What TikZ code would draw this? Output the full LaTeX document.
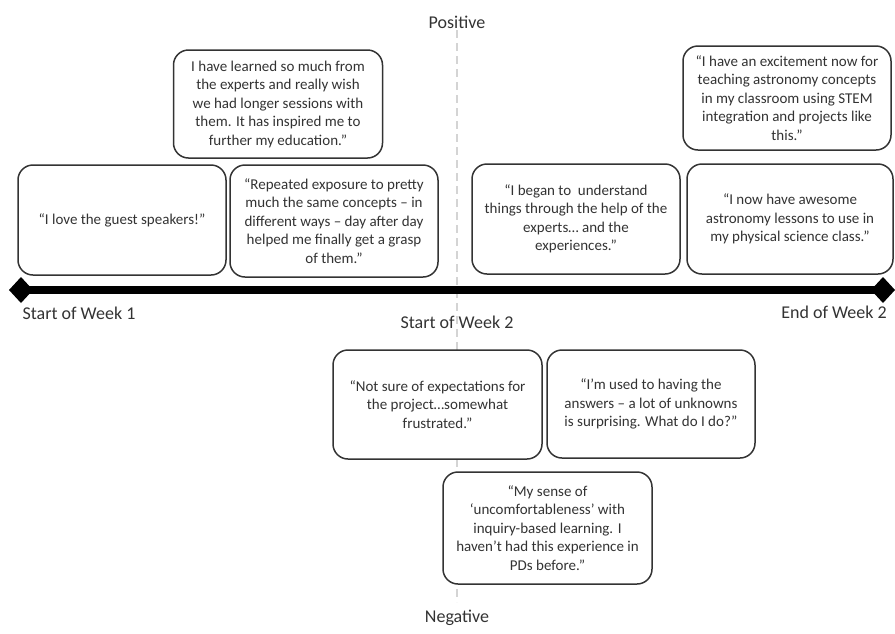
\documentclass[tikz,border=0pt]{standalone}
\usepackage{fontspec}
\setmainfont{Carlito}
\usetikzlibrary{arrows.meta}
\definecolor{txt}{HTML}{333333}
\definecolor{edgegray}{HTML}{333333}
\definecolor{dashgray}{HTML}{D4D4D4}
\tikzset{
  quote/.style={draw=edgegray, line width=1.5pt, rounded corners=15pt, fill=white,
    align=center, text=txt, font=\fontsize{15}{18.5}\selectfont, inner sep=0pt},
  lab/.style={text=txt, font=\fontsize{18}{21}\selectfont, inner sep=0pt},
}
\begin{document}
\begin{tikzpicture}[x=1pt,y=-1pt]
\useasboundingbox (0,0) rectangle (895,633);
% vertical dashed axis
\coordinate (vtop) at (457,30);
\coordinate (vbot) at (457,602);
\draw[draw=dashgray, line width=2pt, dash pattern=on 8pt off 5pt] (vtop) -- (vbot);
% horizontal axis
\coordinate (hl) at (9,290);
\coordinate (hr) at (895,290);
\draw[line width=8.5pt, {Diamond[length=24pt,width=26pt]}-{Diamond[length=24pt,width=26pt]}] (hl) -- (hr);
% labels
\node[lab] (pos) at (457,22) {Positive};
\node[lab] (neg) at (457,618) {Negative};
\node[lab] (sw1) at (79,313) {Start of Week 1};
\node[lab] (sw2) at (457,322) {Start of Week 2};
\node[lab] (ew2) at (834,312) {End of Week 2};
% quote boxes
\node[quote, minimum width=209pt, minimum height=108pt] (qa) at (278,104)
  {I have learned so much from\\the experts and really wish\\we had longer sessions with\\them. It has inspired me to\\further my education.”};
\node[quote, minimum width=208pt, minimum height=104pt] (qf) at (787,98)
  {“I have an excitement now for\\teaching astronomy concepts\\in my classroom using STEM\\integration and projects like\\this.”};
\node[quote, minimum width=208pt, minimum height=110pt] (qb) at (122,220)
  {“I love the guest speakers!”};
\node[quote, minimum width=208pt, minimum height=112pt] (qc) at (334,221)
  {“Repeated exposure to pretty\\much the same concepts – in\\different ways – day after day\\helped me finally get a grasp\\of them.”};
\node[quote, minimum width=208pt, minimum height=110pt] (qd) at (576,219)
  {“I began to\ \ understand\\things through the help of the\\experts… and the\\experiences.”};
\node[quote, minimum width=206pt, minimum height=110pt] (qe) at (790,219)
  {“I now have awesome\\astronomy lessons to use in\\my physical science class.”};
\node[quote, minimum width=209pt, minimum height=109pt] (qg) at (437.5,404.5)
  {“Not sure of expectations for\\the project…somewhat\\frustrated.”};
\node[quote, minimum width=208pt, minimum height=108pt] (qh) at (651,404)
  {“I’m used to having the\\answers – a lot of unknowns\\is surprising. What do I do?”};
\node[quote, minimum width=209pt, minimum height=112pt] (qi) at (547.5,528)
  {“My sense of\\‘uncomfortableness’ with\\inquiry-based learning. I\\haven’t had this experience in\\PDs before.”};
\end{tikzpicture}
\end{document}
